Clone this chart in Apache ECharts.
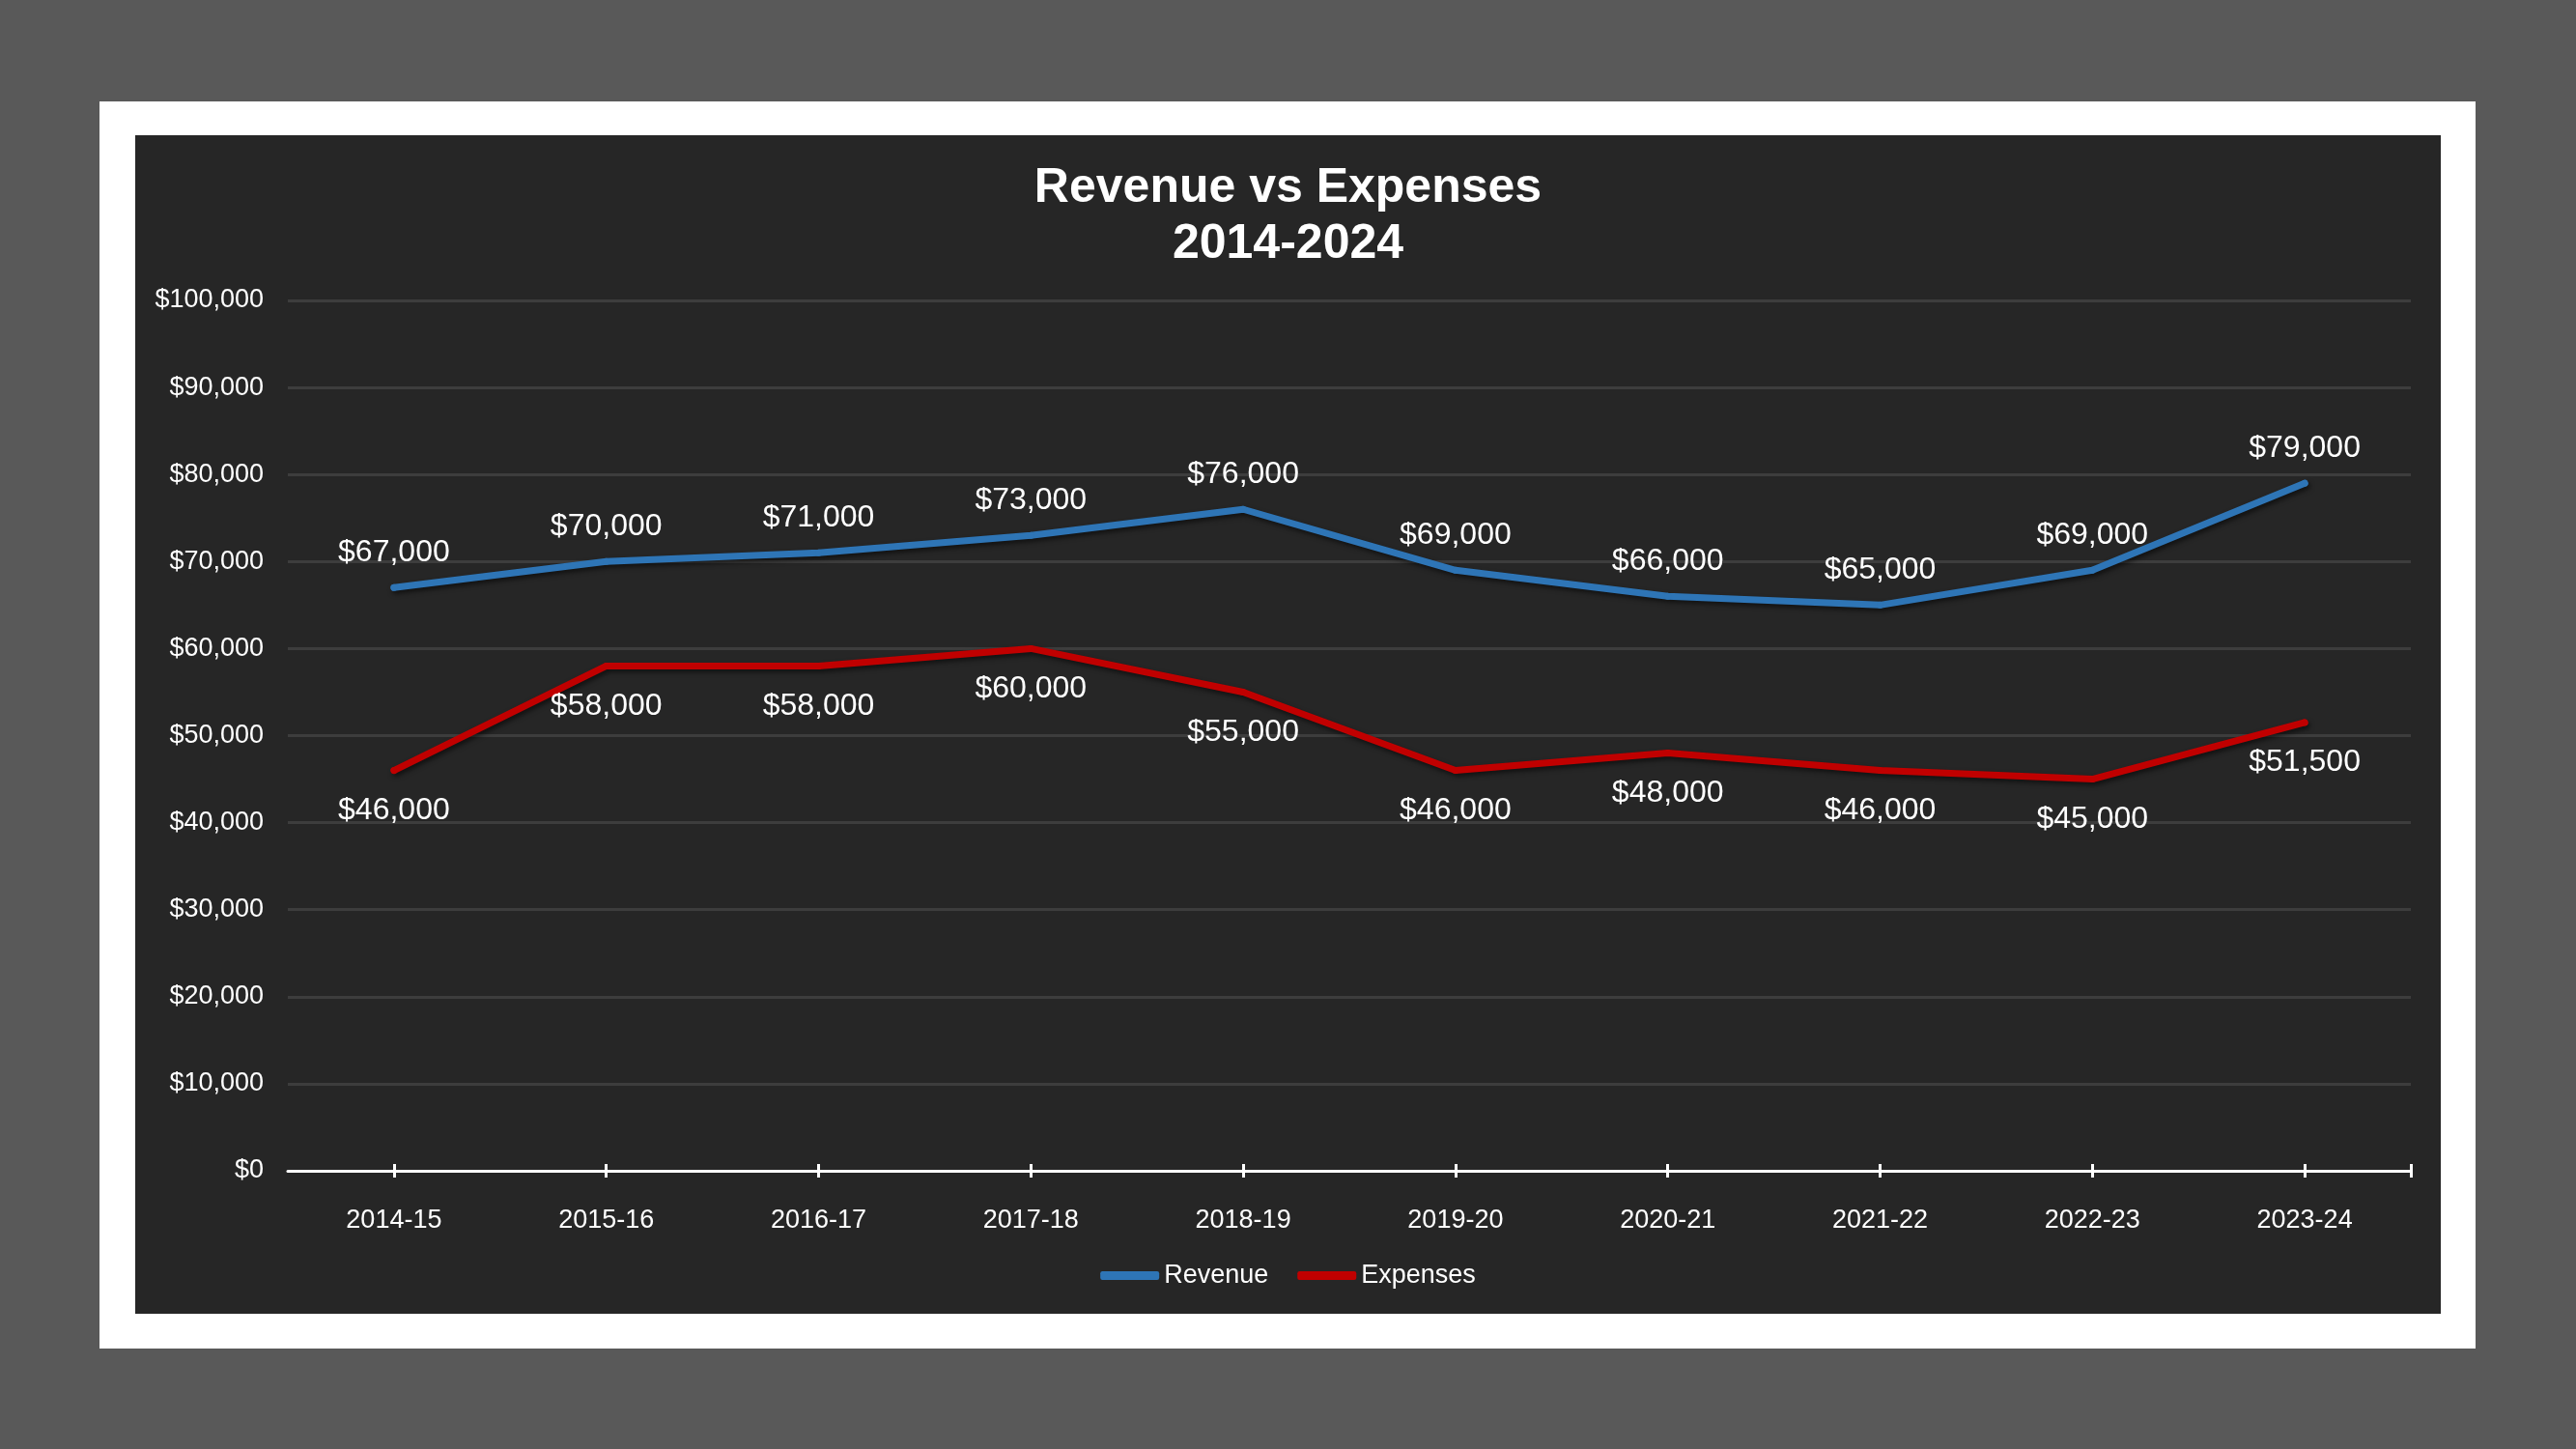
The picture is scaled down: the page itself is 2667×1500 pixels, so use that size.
<!DOCTYPE html>
<html>
<head>
<meta charset="utf-8">
<script src="https://cdn.jsdelivr.net/npm/echarts@6/dist/echarts.min.js"></script>
<style>
html,body{margin:0;padding:0;background:#595959;}
#chart{width:2667px;height:1500px;}
</style>
</head>
<body>
<div id="chart"></div>
<script>
const categories = ['2014-15','2015-16','2016-17','2017-18','2018-19','2019-20','2020-21','2021-22','2022-23','2023-24'];
const revenue = [67000, 70000, 71000, 73000, 76000, 69000, 66000, 65000, 69000, 79000];
const expenses = [46000, 58000, 58000, 60000, 55000, 46000, 48000, 46000, 45000, 51500];
const yMin = 0, yMax = 100000, yStep = 10000;
const titleText = 'Revenue vs Expenses\n2014-2024';

const FONT = '"Liberation Sans", Arial, sans-serif';
const money = v => '$' + Number(v).toLocaleString('en-US');
const tickPositions = categories.map((_, i) => i + 0.5).concat([categories.length]);

const chart = echarts.init(document.getElementById('chart'), null, {renderer: 'canvas'});

function tickAxis(inside) {
  return {
    type: 'value', position: 'bottom', min: 0, max: categories.length,
    axisLine: {show: false}, splitLine: {show: false}, axisLabel: {show: false},
    axisTick: {show: true, inside: inside, length: 7, customValues: tickPositions,
      lineStyle: {color: '#ffffff', width: 3}}
  };
}

const lineSeries = (name, data, color, pos, dist) => ({
  name, type: 'line', data, symbol: 'circle', symbolSize: 7, showSymbol: true, smooth: false,
  lineStyle: {color, width: 7, cap: 'round', join: 'round',
    shadowColor: 'rgba(0,0,0,0.55)', shadowBlur: 5, shadowOffsetX: 2, shadowOffsetY: 3},
  itemStyle: {color, borderWidth: 0},
  label: {show: true, position: pos, distance: dist, offset: [5, 0],
    color: '#ffffff', fontSize: 32, fontFamily: FONT, formatter: p => money(p.value)},
  labelLayout: {hideOverlap: false},
  z: 5
});

chart.setOption({
  backgroundColor: '#595959',
  animation: false,
  graphic: [
    {type: 'rect', shape: {x: 103, y: 105, width: 2460, height: 1291}, style: {fill: '#ffffff'}, z: -10},
    {type: 'rect', shape: {x: 140, y: 140, width: 2387, height: 1220}, style: {fill: '#262626'}, z: -9}
  ],
  title: {
    text: titleText, left: 'center', top: 161,
    textStyle: {color: '#ffffff', fontSize: 50, fontWeight: 'bold', fontFamily: FONT, lineHeight: 58}
  },
  legend: {
    data: ['Revenue', 'Expenses'], left: 'center', top: 1302,
    icon: 'roundRect', itemWidth: 61, itemHeight: 9, itemGap: 30,
    textStyle: {color: '#ffffff', fontSize: 27, fontFamily: FONT}
  },
  grid: {left: 298, right: 171, top: 311, bottom: 288, containLabel: false},
  xAxis: [
    {
      type: 'category', data: categories, boundaryGap: true, position: 'bottom',
      axisLine: {show: true, lineStyle: {color: '#ffffff', width: 3}},
      axisTick: {show: false},
      axisLabel: {color: '#ffffff', fontSize: 27, fontFamily: FONT, margin: 38, lineHeight: 27}
    },
    tickAxis(false),
    tickAxis(true)
  ],
  yAxis: {
    type: 'value', min: yMin, max: yMax, interval: yStep,
    axisLine: {show: false}, axisTick: {show: false},
    splitLine: {show: true, lineStyle: {color: '#3d3d3d', width: 3}},
    axisLabel: {color: '#ffffff', fontSize: 27, fontFamily: FONT, margin: 25,
      padding: [6, 0, 0, 0], formatter: v => money(v)}
  },
  series: [
    lineSeries('Revenue', revenue, '#2E75B6', 'top', 17),
    lineSeries('Expenses', expenses, '#C00000', 'bottom', 22)
  ]
});
</script>
</body>
</html>
